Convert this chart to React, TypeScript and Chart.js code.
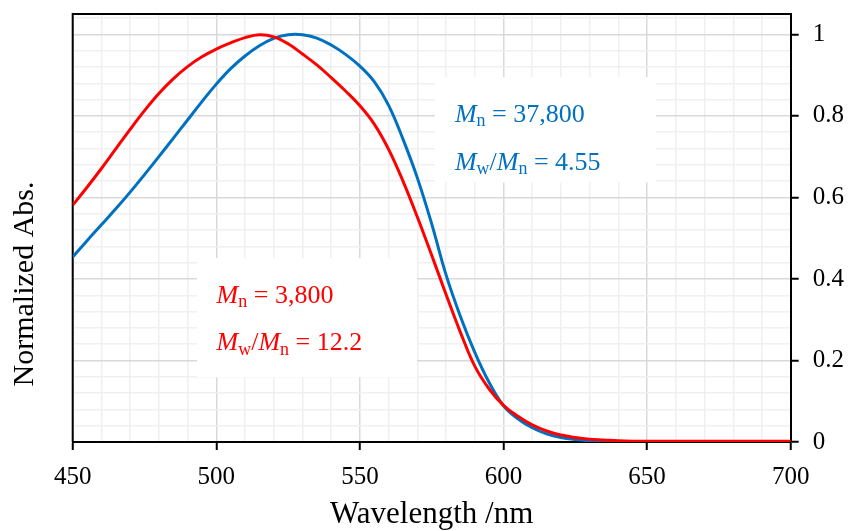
import { useEffect, useRef } from 'react';
import { Chart, registerables } from 'chart.js';

Chart.register(...registerables);

const FONT = "'Liberation Serif', 'Times New Roman', serif";

// Wavelength (nm)
const wavelengths = [
  450, 455, 460, 465, 470, 475, 480, 485, 490, 495,
  500, 505, 510, 515, 520, 525, 530, 535, 540, 545,
  550, 555, 560, 565, 570, 575, 580, 585, 590, 595,
  600, 605, 610, 615, 620, 625, 630, 635, 640, 645,
  650, 655, 660, 665, 670, 675, 680, 685, 690, 695, 700,
];

// Mn = 3,800 (red)
const absMn3800 = [
  0.581, 0.625, 0.671, 0.719, 0.767, 0.813, 0.855, 0.891, 0.921, 0.945,
  0.964, 0.979, 0.992, 0.999, 0.994, 0.977, 0.952, 0.925, 0.894, 0.861,
  0.825, 0.780, 0.718, 0.640, 0.552, 0.458, 0.362, 0.269, 0.186, 0.130,
  0.090, 0.063, 0.042, 0.027, 0.017, 0.011, 0.007, 0.005, 0.003, 0.002,
  0.002, 0.002, 0.002, 0.002, 0.002, 0.002, 0.002, 0.002, 0.002, 0.002, 0.002,
];

// Mn = 37,800 (blue)
const absMn37800 = [
  0.454, 0.494, 0.533, 0.572, 0.613, 0.656, 0.700, 0.745, 0.790, 0.835,
  0.878, 0.916, 0.947, 0.972, 0.990, 0.999, 0.999, 0.991, 0.974, 0.951,
  0.922, 0.884, 0.826, 0.743, 0.648, 0.535, 0.410, 0.308, 0.220, 0.146,
  0.089, 0.057, 0.035, 0.020, 0.011, 0.006, 0.003, 0.002, 0.001, 0.001,
  0.001, 0.001, 0.001, 0.001, 0.001, 0.001, 0.001, 0.001, 0.001, 0.001, 0.001,
];

const xTickLabels = [450, 500, 550, 600, 650, 700];
const yTickLabels = [0, 0.2, 0.4, 0.6, 0.8, 1];
const xMinorStep = 10;
const yMinorStep = 0.04;

const RED = '#FF0000';
const BLUE = '#0070C0';

type Seg = { t: string; italic?: boolean; sub?: boolean };

const redText: Seg[][] = [
  [{ t: 'M', italic: true }, { t: 'n', sub: true }, { t: ' = 3,800' }],
  [{ t: 'M', italic: true }, { t: 'w', sub: true }, { t: '/' }, { t: 'M', italic: true }, { t: 'n', sub: true }, { t: ' = 12.2' }],
];
const blueText: Seg[][] = [
  [{ t: 'M', italic: true }, { t: 'n', sub: true }, { t: ' = 37,800' }],
  [{ t: 'M', italic: true }, { t: 'w', sub: true }, { t: '/' }, { t: 'M', italic: true }, { t: 'n', sub: true }, { t: ' = 4.55' }],
];

// annotation layout in data units
const notes = [
  { color: RED, lines: redText, box: [493.3, 569.9, 0.159, 0.451], textX: 500.1, baselines: [0.342, 0.225] },
  { color: BLUE, lines: blueText, box: [576.1, 653.1, 0.637, 0.895], textX: 583.1, baselines: [0.785, 0.668] },
];

const isMajorX = (v: number) => xTickLabels.some((t) => Math.abs(t - v) < 1e-6);
const isMajorY = (v: number) => yTickLabels.some((t) => Math.abs(t - v) < 1e-6);

function stepTicks(min: number, max: number, step: number) {
  const out: { value: number }[] = [];
  const n = Math.floor((max - min) / step + 1e-9);
  for (let i = 0; i <= n; i++) out.push({ value: Math.round((min + i * step) * 1e6) / 1e6 });
  return out;
}

function drawRich(ctx: CanvasRenderingContext2D, segs: Seg[], x: number, y: number, color: string, size: number) {
  let cx = x;
  ctx.fillStyle = color;
  ctx.textAlign = 'left';
  ctx.textBaseline = 'alphabetic';
  for (const s of segs) {
    const fs = s.sub ? size * 0.69 : size;
    ctx.font = `${s.italic ? 'italic ' : ''}${fs}px ${FONT}`;
    ctx.fillText(s.t, cx, y + (s.sub ? size * 0.17 : 0));
    cx += ctx.measureText(s.t).width;
  }
}

const annotPlugin = {
  id: 'annot',
  beforeDatasetsDraw(chart: any) {
    const { ctx, chartArea, scales } = chart;
    const x = scales.x;
    const y = scales.y;
    ctx.save();
    ctx.fillStyle = '#FFFFFF';
    for (const n of notes) {
      const [x0, x1, y0, y1] = n.box;
      const px0 = x.getPixelForValue(x0);
      const px1 = x.getPixelForValue(x1);
      const py0 = y.getPixelForValue(y1);
      const py1 = y.getPixelForValue(y0);
      ctx.fillRect(px0, py0, px1 - px0, py1 - py0);
    }
    ctx.strokeStyle = '#000';
    ctx.lineWidth = 2;
    ctx.beginPath();
    ctx.moveTo(chartArea.left, chartArea.bottom);
    ctx.lineTo(chartArea.left, chartArea.top);
    ctx.lineTo(chartArea.right + 1, chartArea.top);
    ctx.stroke();
    ctx.restore();
  },
  afterDatasetsDraw(chart: any) {
    const { ctx, chartArea, scales } = chart;
    ctx.save();
    for (const n of notes) {
      const px = scales.x.getPixelForValue(n.textX);
      n.lines.forEach((segs, i) => {
        drawRich(ctx, segs, px, scales.y.getPixelForValue(n.baselines[i]), n.color, 26);
      });
    }
    // y-axis label
    ctx.translate(chartArea.left - 40, (chartArea.top + chartArea.bottom) / 2 + 56);
    ctx.rotate(-Math.PI / 2);
    ctx.font = `30px ${FONT}`;
    ctx.fillStyle = '#000';
    ctx.textAlign = 'center';
    ctx.textBaseline = 'alphabetic';
    ctx.fillText('Normalized Abs.', 0, 0);
    ctx.restore();
  },
};

export default function App() {
  const ref = useRef<HTMLCanvasElement>(null);
  useEffect(() => {
    document.body.style.margin = '0';
    const canvas = ref.current!;
    const chart = new Chart(canvas, {
      type: 'line',
      data: {
        labels: wavelengths,
        datasets: [
          {
            label: 'Mn = 3,800',
            data: wavelengths.map((w, i) => ({ x: w, y: absMn3800[i] })),
            borderColor: RED,
            borderWidth: 3,
            pointRadius: 0,
            tension: 0.4,
            fill: false,
          },
          {
            label: 'Mn = 37,800',
            data: wavelengths.map((w, i) => ({ x: w, y: absMn37800[i] })),
            borderColor: BLUE,
            borderWidth: 3,
            pointRadius: 0,
            tension: 0.4,
            fill: false,
          },
        ],
      },
      options: {
        responsive: false,
        animation: false,
        layout: { padding: { left: 72.7, top: 14, right: 0, bottom: 0 } },
        plugins: { legend: { display: false }, tooltip: { enabled: false } },
        scales: {
          x: {
            type: 'linear',
            min: 450,
            max: 700,
            afterBuildTicks: (s: any) => {
              s.ticks = stepTicks(450, 700, xMinorStep);
            },
            ticks: {
              autoSkip: false,
              maxRotation: 0,
              color: '#000',
              padding: 12,
              font: { family: FONT, size: 25 },
              callback: (v: any) => (isMajorX(Number(v)) ? String(v) : ''),
            },
            grid: {
              color: (c: any) => (isMajorX(c.tick.value) ? '#D9D9D9' : '#F0F0F0'),
              lineWidth: 1.5,
              tickLength: 8,
              tickWidth: 2,
              tickColor: (c: any) => (isMajorX(c.tick.value) ? '#000' : 'rgba(0,0,0,0)'),
            },
            border: { display: true, color: '#000', width: 2 },
            title: {
              display: true,
              text: 'Wavelength /nm',
              color: '#000',
              font: { family: FONT, size: 31 },
              padding: { top: 0, bottom: -2 },
            },
            afterFit: (s: any) => {
              s.height = 89;
              s.paddingLeft = 0;
              s.paddingRight = 0;
            },
          },
          y: {
            type: 'linear',
            position: 'right',
            min: 0,
            max: 1.05,
            afterBuildTicks: (s: any) => {
              s.ticks = stepTicks(0, 1.05, yMinorStep);
            },
            ticks: {
              autoSkip: false,
              color: '#000',
              padding: 14,
              font: { family: FONT, size: 25 },
              callback: (v: any) => (isMajorY(Number(v)) ? String(Number(Number(v).toFixed(1))) : ''),
            },
            grid: {
              color: (c: any) => (isMajorY(c.tick.value) ? '#D9D9D9' : '#F0F0F0'),
              lineWidth: 1.5,
              tickLength: 8,
              tickWidth: 2,
              tickColor: (c: any) => (isMajorY(c.tick.value) ? '#000' : 'rgba(0,0,0,0)'),
            },
            border: { display: true, color: '#000', width: 2 },
            afterFit: (s: any) => {
              s.width = 62.3;
              s.paddingTop = 0;
              s.paddingBottom = 0;
            },
          },
        },
      },
      plugins: [annotPlugin],
    } as any);
    return () => chart.destroy();
  }, []);
  return (
    <div style={{ width: 853, height: 531 }}>
      <canvas ref={ref} width={853} height={531} style={{ display: 'block' }} />
    </div>
  );
}
